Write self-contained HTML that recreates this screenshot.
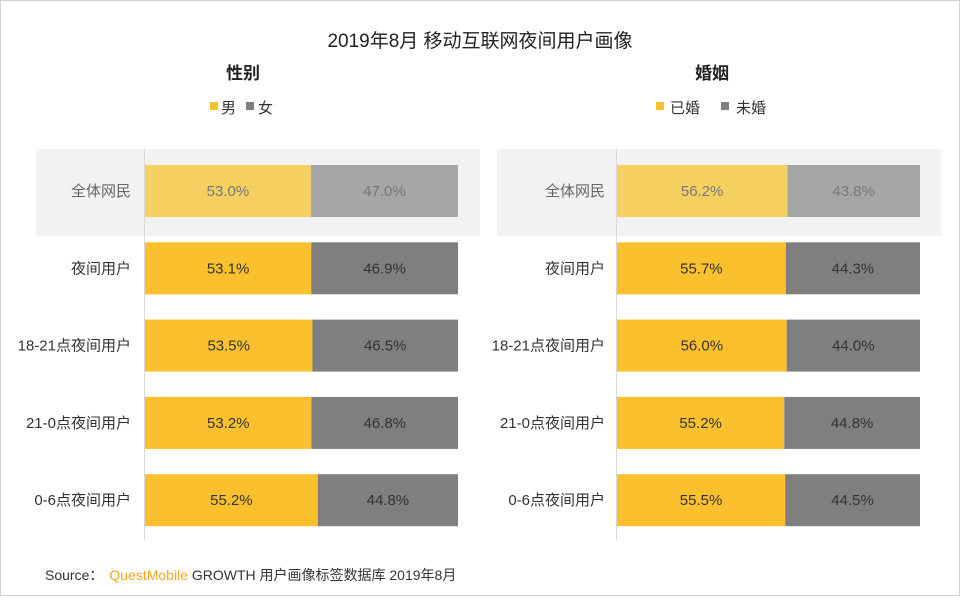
<!DOCTYPE html>
<html><head><meta charset="utf-8"><style>
body{margin:0;background:#fff;}
svg text{font-family:"Liberation Sans","Noto Sans CJK SC",sans-serif;}
</style></head><body>
<svg id="c" width="960" height="596" viewBox="0 0 960 596">
<rect x="0.5" y="0.5" width="959" height="595" fill="#fff" stroke="#d0d0d0"/>
<text x="480" y="47" text-anchor="middle" font-size="19" fill="#222">2019年8月 移动互联网夜间用户画像</text>
<text x="243" y="79" text-anchor="middle" font-size="17" font-weight="bold" fill="#222">性别</text>
<text x="712" y="79" text-anchor="middle" font-size="17" font-weight="bold" fill="#222">婚姻</text>
<g>
<rect x="210" y="102" width="8" height="8" fill="#fbc02d"/><text x="221" y="113" font-size="15" fill="#333">男</text>
<rect x="246" y="102" width="8" height="8" fill="#7f7f7f"/><text x="258" y="113" font-size="15" fill="#333">女</text>
</g>
<g>
<rect x="656" y="102" width="8" height="8" fill="#fbc02d"/><text x="670" y="113" font-size="15" fill="#333">已婚</text>
<rect x="721" y="102" width="8" height="8" fill="#7f7f7f"/><text x="736" y="113" font-size="15" fill="#333">未婚</text>
</g>
<rect x="36" y="149" width="444" height="87" fill="#f2f2f2"/>
<rect x="497" y="149" width="444" height="87" fill="#f2f2f2"/>
<g id="bars"></g>
<text x="45" y="580" font-size="14" fill="#333">Source：<tspan fill="#f5a623" font-weight="normal" dx="6">QuestMobile</tspan><tspan fill="#333"> GROWTH 用户画像标签数据库 2019年8月</tspan></text>
</svg>
<script>
const categories=["全体网民","夜间用户","18-21点夜间用户","21-0点夜间用户","0-6点夜间用户"];
const maleValues=[53.0,53.1,53.5,53.2,55.2];
const femaleValues=[47.0,46.9,46.5,46.8,44.8];
const marriedValues=[56.2,55.7,56.0,55.2,55.5];
const unmarriedValues=[43.8,44.3,44.0,44.8,44.5];
const NS="http://www.w3.org/2000/svg";
const g=document.getElementById('bars');
function rowY(i){return 165+i*77.3;}
function mk(tag,attrs){const e=document.createElementNS(NS,tag);for(const k in attrs)e.setAttribute(k,attrs[k]);g.appendChild(e);return e;}
function panel(x0,w,labelX,a,b,nm){
  const ax=mk('line',{x1:x0-0.5,x2:x0-0.5,y1:149,y2:540,stroke:'#d9d9d9'});
  
  
  categories.forEach((c,i)=>{
    const y=rowY(i),h=52,first=i===0;
    const wa=w*a[i]/100, wb=w*b[i]/100;
    const r1=mk('rect',{x:x0,y:y,width:wa,height:h,fill:first?'#f5d060':'#fbc02d'});
    
    
    const r2=mk('rect',{x:x0+wa,y:y,width:wb,height:h,fill:first?'#a6a6a6':'#7f7f7f'});
    
    
    const t1=mk('text',{x:x0+wa/2,y:y+h/2+5,'text-anchor':'middle','font-size':15,fill:first?'#777':'#333'});
    t1.textContent=a[i].toFixed(1)+'%';
    
    
    const t2=mk('text',{x:x0+wa+wb/2,y:y+h/2+5,'text-anchor':'middle','font-size':15,fill:first?'#777':'#333'});
    t2.textContent=b[i].toFixed(1)+'%';
    
    
    const l=mk('text',{x:labelX,y:y+h/2+5,'text-anchor':'end','font-size':15,fill:first?'#666':'#333'});
    l.textContent=c;
    
    
  });
}
panel(145,313,131,maleValues,femaleValues,'gender');
panel(617,303,605,marriedValues,unmarriedValues,'marriage');
</script>
</body></html>
